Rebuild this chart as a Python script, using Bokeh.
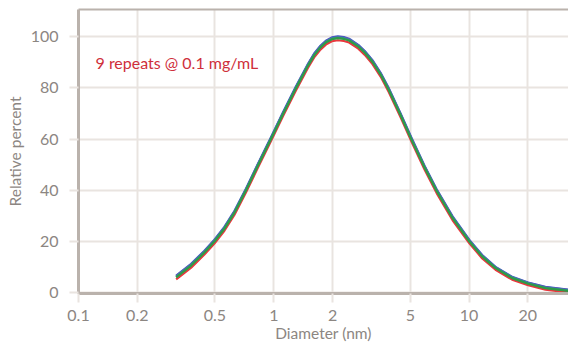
from bokeh.plotting import figure
from bokeh.models import (FixedTicker, CustomJSTickFormatter, Label, LogAxis,
                          Range1d, ColumnDataSource)
from bokeh.embed import file_html
from bokeh.resources import INLINE

# ---- data ----
diameter_nm = [0.3163, 0.3774, 0.4414, 0.4966, 0.5586, 0.6284, 0.7211, 0.8274,
               0.9676, 1.114, 1.298, 1.495, 1.610, 1.722, 1.848, 1.984, 2.129,
               2.285, 2.431, 2.709, 2.924, 3.202, 3.530, 3.879, 4.467, 5.084,
               5.924, 6.823, 8.236, 10.06, 11.68, 13.66, 16.62, 20.07, 24.60, 32.24]

rep_blue   = [6.7, 11.3, 16.4, 20.7, 25.7, 31.9, 40.7, 50.2, 60.7, 70.4, 80.5, 89.3,
              93.4, 96.2, 98.4, 99.7, 100.1, 99.8, 99.2, 96.8, 94.4, 90.8, 85.8,
              79.9, 69.9, 60.3, 49.5, 40.4, 29.8, 20.5, 14.7, 10.1, 6.2, 4.0, 2.3, 1.25]
rep_purple = [6.45, 11.05, 16.15, 20.45, 25.45, 31.65, 40.45, 49.95, 60.45, 70.15,
              80.25, 89.05, 93.15, 95.95, 98.15, 99.45, 99.85, 99.55, 98.95, 96.55,
              94.15, 90.55, 85.55, 79.65, 69.65, 60.05, 49.25, 40.15, 29.55, 20.3,
              14.5, 9.95, 6.05, 3.85, 2.15, 1.1]
rep_teal   = [6.2, 10.8, 15.9, 20.2, 25.2, 31.4, 40.2, 49.7, 60.2, 69.9, 80.0, 88.8,
              92.9, 95.7, 97.9, 99.2, 99.6, 99.3, 98.7, 96.3, 93.9, 90.3, 85.3,
              79.4, 69.4, 59.8, 49.0, 39.9, 29.3, 20.1, 14.3, 9.8, 5.9, 3.7, 1.95, 0.9]
rep_green  = [6.0, 10.6, 15.7, 20.0, 25.0, 31.2, 40.0, 49.5, 60.0, 69.7, 79.8, 88.6,
              92.7, 95.5, 97.7, 99.0, 99.4, 99.1, 98.5, 96.1, 93.7, 90.1, 85.1,
              79.2, 69.2, 59.6, 48.8, 39.7, 29.1, 19.9, 14.1, 9.6, 5.7, 3.5, 1.8, 0.75]
rep_red    = [5.2, 9.8, 14.9, 19.2, 24.2, 30.4, 39.2, 48.7, 59.2, 68.9, 79.0, 87.8,
              91.9, 94.7, 96.9, 98.2, 98.6, 98.3, 97.7, 95.3, 92.9, 89.3, 84.3,
              78.4, 68.4, 58.8, 48.0, 38.9, 28.3, 19.2, 13.4, 9.0, 5.1, 2.9, 1.2, 0.15]

# drawing order: bottom first
series = [rep_blue, rep_purple, rep_red, rep_teal, rep_green]
colors = ["#3f5cc6", "#6b52b4", "#e8383d", "#27999b", "#2f9a48"]

x_ticks = [0.1, 0.2, 0.5, 1, 2, 5, 10, 20]
y_ticks = [0, 20, 40, 60, 80, 100]
annotation = "9 repeats @ 0.1 mg/mL"

FONT = "Lato"
AXIS_COL = "#bab2ac"
GRID_COL = "#e9e4e0"
TEXT_COL = "#8c8682"

p = figure(width=568, height=345, x_axis_type="log",
           x_range=Range1d(0.1, 32.3), y_range=Range1d(-0.3, 110.6),
           output_backend="svg", toolbar_location=None,
           min_border_left=78, min_border_right=0, min_border_top=9,
           min_border_bottom=52)
p.outline_line_color = None
p.background_fill_color = "white"
p.border_fill_color = "white"

for vals, col in zip(series, colors):
    src = ColumnDataSource(dict(x=diameter_nm, y=vals))
    p.line("x", "y", source=src, line_color=col, line_width=2.2,
           line_join="round")

# grids
p.xgrid.ticker = FixedTicker(ticks=x_ticks)
p.ygrid.ticker = FixedTicker(ticks=y_ticks)
for g in (p.xgrid[0], p.ygrid[0]):
    g.grid_line_color = GRID_COL
    g.grid_line_width = 2

# axes
xa = p.xaxis[0]
ya = p.yaxis[0]
xa.ticker = FixedTicker(ticks=x_ticks)
xa.formatter = CustomJSTickFormatter(code="return tick.toString();")
ya.ticker = FixedTicker(ticks=y_ticks)
for ax in (xa, ya):
    ax.axis_line_color = AXIS_COL
    ax.axis_line_width = 3
    ax.major_tick_line_color = GRID_COL
    ax.major_tick_line_width = 2
    ax.major_tick_out = 9
    ax.major_tick_in = 0
    ax.minor_tick_line_color = None
    ax.major_label_text_font = FONT
    ax.major_label_text_font_size = "16px"
    ax.major_label_text_color = TEXT_COL
    ax.axis_label_text_font = FONT
    ax.axis_label_text_font_size = "15.5px"
    ax.axis_label_text_font_style = "normal"
    ax.axis_label_text_color = TEXT_COL
xa.major_label_standoff = 7
ya.major_label_standoff = 11
xa.axis_label = "Diameter (nm)"
ya.axis_label = "Relative percent"
xa.axis_label_standoff = 0
ya.axis_label_standoff = 4

top = LogAxis(ticker=FixedTicker(ticks=[]), axis_line_color=AXIS_COL,
              axis_line_width=2, major_tick_line_color=None,
              minor_tick_line_color=None, major_label_text_font_size="0px")
p.add_layout(top, "above")

p.add_layout(Label(x=17, y=231, x_units="screen", y_units="screen",
                   text=annotation, text_font=FONT, text_font_size="16px",
                   text_color="#cf2f3b", text_baseline="middle"))

open("out.html", "w").write(file_html(p, INLINE))
